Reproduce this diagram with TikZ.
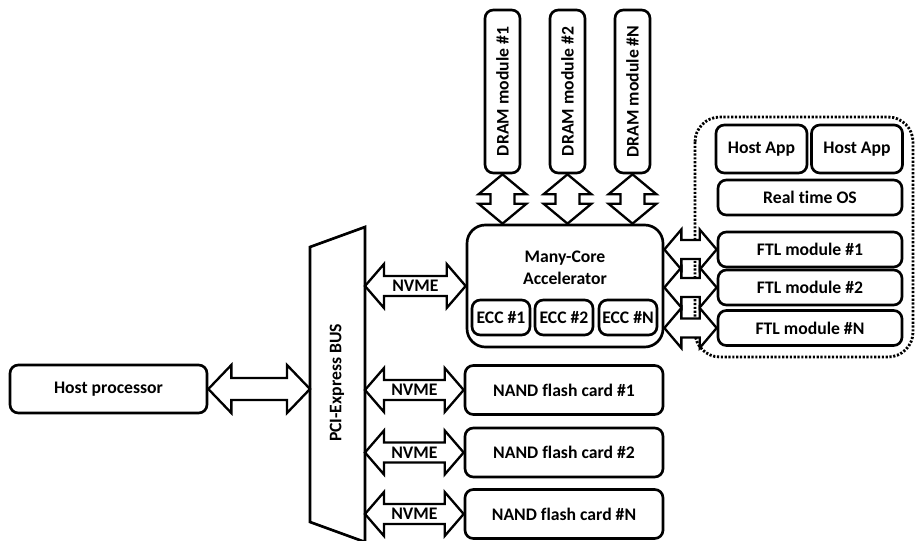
\documentclass[tikz,border=0pt]{standalone}
\usepackage{fontspec}
\setmainfont{Carlito}[Ligatures=CommonOff]
\usepackage{tikz}
\usetikzlibrary{calc}

\tikzset{
  box/.style={draw, line width=1.6pt, rounded corners=5pt, inner sep=0pt, align=center},
  blockarrow/.style={draw, fill=white, line width=1.4pt},
  arrowfill/.style={fill=white},
  arrowline/.style={draw, line width=1.4pt},
  busline/.style={draw, line width=1.6pt},
  dotline/.style={line width=1.7pt, dash pattern=on 1.3pt off 1pt},
}

% 横向双头箭头: [style]{left}{right}{head length}{head half width}{shaft half width}
\newcommand\harrow[6][blockarrow]{%
  \path[#1] (#2) -- ($(#2)+(#4,-#5)$) -- ($(#2)+(#4,-#6)$) -- ($(#3)+(-#4,-#6)$)
    -- ($(#3)+(-#4,-#5)$) -- (#3) -- ($(#3)+(-#4,#5)$) -- ($(#3)+(-#4,#6)$)
    -- ($(#2)+(#4,#6)$) -- ($(#2)+(#4,#5)$) -- cycle;
}
% 竖向双头箭头: [style]{top}{bottom}{head length}{head half width}{shaft half width}
\newcommand\varrow[6][blockarrow]{%
  \path[#1] (#2) -- ($(#2)+(#5,#4)$) -- ($(#2)+(#6,#4)$) -- ($(#3)+(#6,-#4)$)
    -- ($(#3)+(#5,-#4)$) -- (#3) -- ($(#3)+(-#5,-#4)$) -- ($(#3)+(-#6,-#4)$)
    -- ($(#2)+(-#6,#4)$) -- ($(#2)+(-#5,#4)$) -- cycle;
}

\begin{document}
\begin{tikzpicture}[x=0.6pt,y=-0.6pt,font=\bfseries\fontsize{10.6}{13}\selectfont]
    \useasboundingbox (0,0) rectangle (917,541);

    % dotted frame round the software stack
    \draw[dotline, rounded corners=15pt] (695,117) rectangle (913,357);

    % PCI-Express bus
    \draw[busline] (310,247) -- (365,227) -- (365,542) -- (310,522) -- cycle;
    \node[rotate=90] (pci) at (337,383) {PCI-Express BUS};
    \coordinate (pcil) at (310,389);
    \coordinate (pcir) at (365,0);

    % host side
    \node[box, minimum width=118.2pt, minimum height=28.8pt] (host) at (108.5,389) {Host processor};
    \harrow{host.east}{pcil}{23}{24}{11}

    % accelerator
    \node[box, rounded corners=11pt, minimum width=117.6pt, minimum height=73.2pt] (acc) at (565,286) {};
    \node[align=center] (acctext) at (565,268) {Many-Core\\Accelerator};
    \node[box, minimum width=34.8pt, minimum height=21pt] (ecc1) at (501,317.5) {ECC \#1};
    \node[box, minimum width=34.8pt, minimum height=21pt] (ecc2) at (564,317.5) {ECC \#2};
    \node[box, minimum width=34.8pt, minimum height=21pt] (eccn) at (628,317.5) {ECC \#N};

    % flash cards
    \node[box, minimum width=118.8pt, minimum height=29.4pt] (nand1) at (564,390) {NAND flash card \#1};
    \node[box, minimum width=118.8pt, minimum height=29.4pt] (nand2) at (564,452.5) {NAND flash card \#2};
    \node[box, minimum width=118.8pt, minimum height=29.4pt] (nandn) at (564,514) {NAND flash card \#N};

    % NVME links
    \coordinate (p0) at (pcir |- acc.west);
    \coordinate (p1) at (pcir |- nand1.west);
    \coordinate (p2) at (pcir |- nand2.west);
    \coordinate (pn) at (pcir |- nandn.west);
    \harrow{p0}{acc.west}{19}{22}{10}
    \harrow{p1}{nand1.west}{19}{22}{10}
    \harrow{p2}{nand2.west}{19}{22}{10}
    \harrow{pn}{nandn.west}{19}{22}{10}
    \node (nv0) at ($(p0)!0.5!(acc.west)$) {NVME};
    \node (nv1) at ($(p1)!0.5!(nand1.west)$) {NVME};
    \node (nv2) at ($(p2)!0.5!(nand2.west)$) {NVME};
    \node (nvn) at ($(pn)!0.5!(nandn.west)$) {NVME};

    % DRAM
    \node[box, minimum width=21pt, minimum height=97.8pt] (dram1) at (502.5,91.5) {\rotatebox{90}{DRAM module \#1}};
    \node[box, minimum width=21pt, minimum height=97.8pt] (dram2) at (567.5,91.5) {\rotatebox{90}{DRAM module \#2}};
    \node[box, minimum width=21pt, minimum height=97.8pt] (dramn) at (632.5,91.5) {\rotatebox{90}{DRAM module \#N}};
    \coordinate (d1) at (dram1.south |- acc.north);
    \coordinate (d2) at (dram2.south |- acc.north);
    \coordinate (dn) at (dramn.south |- acc.north);
    \varrow{dram1.south}{d1}{20}{24}{12}
    \varrow{dram2.south}{d2}{20}{24}{12}
    \varrow{dramn.south}{dn}{20}{24}{12}

    % software stack
    \node[box, minimum width=54.6pt, minimum height=28.8pt] (app1) at (761.5,149) {Host App};
    \node[box, minimum width=54.6pt, minimum height=28.8pt] (app2) at (857,149) {Host App};
    \node[box, minimum width=110.4pt, minimum height=21pt] (rtos) at (810,197.5) {Real time OS};
    \node[box, minimum width=110.4pt, minimum height=21pt] (ftl1) at (810,249.5) {FTL module \#1};
    \node[box, minimum width=110.4pt, minimum height=21pt] (ftl2) at (810,287.5) {FTL module \#2};
    \node[box, minimum width=110.4pt, minimum height=21pt] (ftln) at (810,328) {FTL module \#N};

    % FTL links: fill first, outlines after
    \coordinate (f1) at (acc.east |- ftl1.west);
    \coordinate (f2) at (acc.east |- ftl2.west);
    \coordinate (fn) at (acc.east |- ftln.west);
    \harrow[arrowfill]{f1}{ftl1.west}{17}{20}{9.5}
    \harrow[arrowfill]{f2}{ftl2.west}{17}{20}{9.5}
    \harrow[arrowfill]{fn}{ftln.west}{17}{20}{9.5}
    \harrow[arrowline]{f1}{ftl1.west}{17}{20}{9.5}
    \harrow[arrowline]{f2}{ftl2.west}{17}{20}{9.5}
    \harrow[arrowline]{fn}{ftln.west}{17}{20}{9.5}
\end{tikzpicture}
\end{document}
